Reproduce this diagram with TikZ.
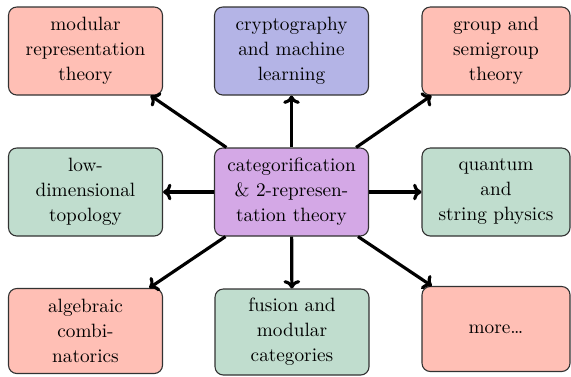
\documentclass[tikz,border=0pt]{standalone}
\usepackage{fontspec}
\usetikzlibrary{arrows.meta}
\definecolor{boxred}{RGB}{255,191,181}
\definecolor{boxblue}{RGB}{180,180,230}
\definecolor{boxgreen}{RGB}{192,221,206}
\definecolor{boxpurple}{RGB}{212,168,230}
\definecolor{edgegray}{RGB}{50,50,50}
\tikzset{
  topic/.style={draw=edgegray, line width=0.6pt, rounded corners=4.5pt, align=center,
    font=\fontsize{10.4pt}{13.5pt}\selectfont, inner sep=0pt,
    minimum width=154*0.54pt, minimum height=88*0.54pt},
  rtopic/.style={topic, minimum width=148*0.54pt},
  redbox/.style={fill=boxred},
  bluebox/.style={fill=boxblue},
  greenbox/.style={fill=boxgreen},
  purplebox/.style={fill=boxpurple},
  link/.style={-{Computer Modern Rightarrow[length=4.5pt,width=9pt,line width=1.7pt]}, line width=1.7pt, black}
}
\begin{document}
\begin{tikzpicture}[x=0.54pt, y=-0.54pt]
\useasboundingbox (0,0) rectangle (571,376);
\node[topic, redbox] (tl) at (85.5,51) {modular\\representation\\theory};
\node[topic, bluebox] (tm) at (291.5,51) {cryptography\\and machine\\learning};
\node[rtopic, redbox] (tr) at (496,51) {group and\\semigroup\\theory};
\node[topic, greenbox] (ml) at (85.5,192) {low-\\dimensional\\topology};
\node[topic, purplebox] (c) at (291.5,192) {categorification\\\& 2-represen-\\tation theory};
\node[rtopic, greenbox] (mr) at (496,192) {quantum\\and\\string physics};
\node[topic, redbox, minimum height=85*0.54pt] (bl) at (85.5,331) {algebraic\\combi-\\natorics};
\node[topic, greenbox, minimum height=86*0.54pt] (bm) at (292,332) {fusion and\\modular\\categories};
\node[rtopic, redbox, minimum height=85*0.54pt] (br) at (496,329) {more…};
\foreach \t in {tl,tm,tr,ml,mr,bl,bm,br}
  \draw[link] (c) -- (\t);
\end{tikzpicture}
\end{document}
